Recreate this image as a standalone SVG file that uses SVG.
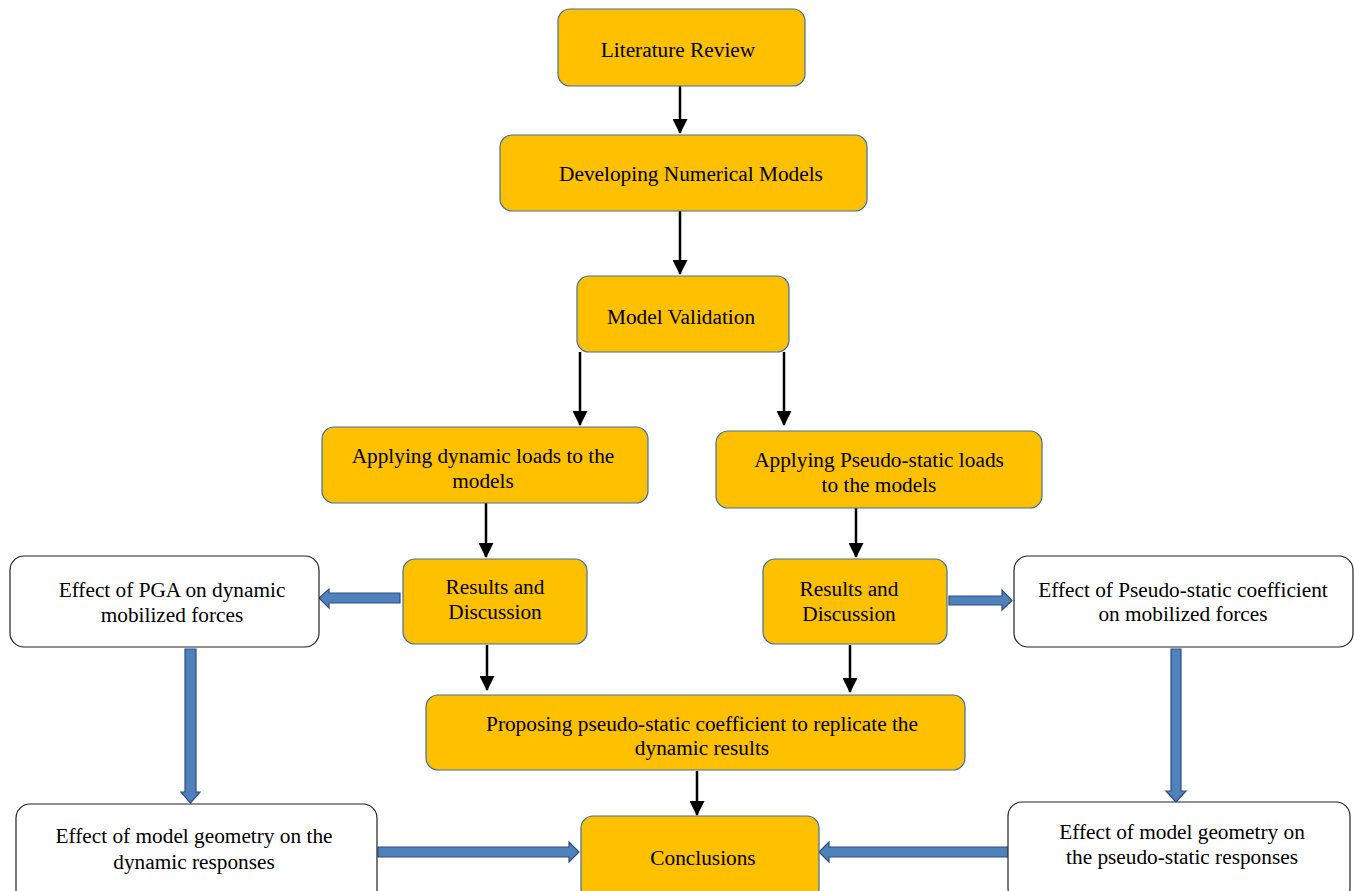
<svg xmlns="http://www.w3.org/2000/svg" width="1354" height="891" viewBox="0 0 1354 891" font-family="Liberation Serif, DejaVu Serif, serif">
<defs>
<marker id="ah" markerWidth="6" markerHeight="6" refX="5.6" refY="3" orient="auto" markerUnits="strokeWidth">
<path d="M0,0 L6,3 L0,6 Z" fill="#000"/>
</marker>
<style>
.o{fill:#FFC000;stroke:#41719C;stroke-width:1.2}
.w{fill:#fff;stroke:#222;stroke-width:1.2}
.t{font-size:21.3px;fill:#000;text-anchor:middle}
.c{stroke:#000;stroke-width:2.5;fill:none;marker-end:url(#ah)}
.b{fill:#4F81BD;stroke:#2F4F7F;stroke-width:1.2}
</style>
</defs>
<rect width="1354" height="891" fill="#fff"/>
<g id="connectors">
<line class="c" x1="680" y1="86" x2="680" y2="133"/>
<line class="c" x1="680" y1="211" x2="680" y2="274"/>
<line class="c" x1="580" y1="352" x2="580" y2="425"/>
<line class="c" x1="784" y1="352" x2="784" y2="425"/>
<line class="c" x1="486" y1="503" x2="486" y2="557"/>
<line class="c" x1="856" y1="508" x2="856" y2="557"/>
<line class="c" x1="487" y1="645" x2="487" y2="690"/>
<line class="c" x1="850" y1="645" x2="850" y2="692"/>
<line class="c" x1="697" y1="771" x2="697" y2="815"/>
<path class="b" d="M400,593 L329,593 L329,589 L319,598 L329,608 L329,603 L400,603 Z"/>
<path class="b" d="M949,596 L1002,596 L1002,590 L1012,600.5 L1002,610 L1002,605 L949,605 Z"/>
<path class="b" d="M185,649 L196,649 L196,792 L200,792 L190.5,803 L181,792 L185,792 Z"/>
<path class="b" d="M1171,649 L1181,649 L1181,791 L1186,791 L1176,802 L1166,791 L1171,791 Z"/>
<path class="b" d="M378,847 L569,847 L569,842 L579,852 L569,862 L569,857 L378,857 Z"/>
<path class="b" d="M1010,847 L829,847 L829,842 L819,852 L829,862 L829,857 L1010,857 Z"/>
</g>
<g id="n-lit"><rect class="o" x="558" y="9" width="247" height="77" rx="12"/><text class="t" x="678" y="57">Literature Review</text></g>
<g id="n-dev"><rect class="o" x="500" y="135" width="367" height="76" rx="12"/><text class="t" x="691" y="181">Developing Numerical Models</text></g>
<g id="n-val"><rect class="o" x="577" y="276" width="212" height="76" rx="12"/><text class="t" x="681" y="324">Model Validation</text></g>
<g id="n-dyn"><rect class="o" x="322" y="427" width="326" height="76" rx="12"/><text class="t" x="483" y="463">Applying dynamic loads to the</text><text class="t" x="483" y="488">models</text></g>
<g id="n-ps"><rect class="o" x="716" y="431" width="326" height="77" rx="12"/><text class="t" x="879" y="467">Applying Pseudo-static loads</text><text class="t" x="879" y="492">to the models</text></g>
<g id="n-rl"><rect class="o" x="403" y="559" width="184" height="85" rx="12"/><text class="t" x="495" y="594">Results and</text><text class="t" x="495" y="619">Discussion</text></g>
<g id="n-rr"><rect class="o" x="763" y="559" width="184" height="85" rx="12"/><text class="t" x="849" y="596">Results and</text><text class="t" x="849" y="621">Discussion</text></g>
<g id="n-pga"><rect class="w" x="10" y="556" width="309" height="91" rx="14"/><text class="t" x="172" y="597">Effect of PGA on dynamic</text><text class="t" x="172" y="622">mobilized forces</text></g>
<g id="n-psc"><rect class="w" x="1014" y="556" width="339" height="91" rx="14"/><text class="t" x="1183" y="597">Effect of Pseudo-static coefficient</text><text class="t" x="1183" y="621">on mobilized forces</text></g>
<g id="n-prop"><rect class="o" x="426" y="695" width="539" height="75" rx="12"/><text class="t" x="702" y="731">Proposing pseudo-static coefficient to replicate the</text><text class="t" x="702" y="755">dynamic results</text></g>
<g id="n-gd"><rect class="w" x="16" y="804" width="361" height="100" rx="14"/><text class="t" x="194" y="843">Effect of model geometry on the</text><text class="t" x="194" y="869">dynamic responses</text></g>
<g id="n-gp"><rect class="w" x="1008" y="802" width="342" height="100" rx="14"/><text class="t" x="1182" y="839">Effect of model geometry on</text><text class="t" x="1182" y="864">the pseudo-static responses</text></g>
<g id="n-con"><rect class="o" x="581" y="816" width="238" height="90" rx="12"/><text class="t" x="703" y="865">Conclusions</text></g>
</svg>
